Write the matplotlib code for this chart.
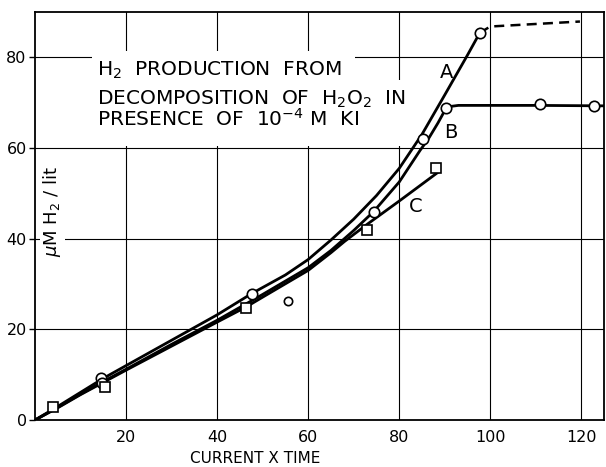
import matplotlib
matplotlib.use('Agg')
import matplotlib.pyplot as plt
from matplotlib.patches import Polygon

plt.rcParams['font.family'] = ['DejaVu Sans']

# === curves ===
a_x = [0, 5, 10, 15, 20, 30, 40, 47.6, 55, 60, 65, 70, 75, 80, 85, 90, 95, 97.7]
a_y = [0, 3.0, 6.1, 9.2, 12.0, 17.6, 23.2, 27.9, 32.0, 35.4, 39.7, 44.3, 49.5, 55.5, 63.0, 71.7, 80.5, 85.4]
a_dash_x = [97.7, 100, 119.7]
a_dash_y = [85.4, 86.8, 87.9]

b_x = [0, 5, 10, 15, 20, 30, 40, 50, 60, 65, 70, 74.4, 80, 84.6, 86.4, 88.5, 90.2, 91.5, 93, 110, 125]
b_y = [0, 2.8, 5.7, 8.5, 11.2, 16.7, 22.0, 27.7, 33.6, 37.4, 41.8, 46.0, 52.5, 59.5, 62.0, 65.5, 68.6, 69.2, 69.4, 69.4, 69.3]

c_x = [0, 5, 10, 15, 20, 30, 40, 46.3, 50, 60, 65, 68, 73, 80, 88.6]
c_y = [0, 2.7, 5.6, 8.3, 11.0, 16.3, 21.6, 24.9, 27.1, 33.0, 36.9, 39.4, 43.2, 48.3, 54.7]

# measured points
circ_x = [14.4, 14.8, 47.6, 74.4, 85.2, 90.2, 97.7, 111, 122.8]
circ_y = [9.3, 8.1, 27.9, 45.9, 61.9, 68.9, 85.4, 69.6, 69.2]
odd_x = [55.5]
odd_y = [26.2]
sq_x = [3.9, 15.4, 46.3, 73, 88]
sq_y = [2.9, 7.2, 24.7, 41.9, 55.6]

x_ticks = [20, 40, 60, 80, 100, 120]
y_ticks = [0, 20, 40, 60, 80]

fig = plt.figure(figsize=(6.06, 4.67), dpi=100)
ax = fig.add_axes([0.0578, 0.1006, 0.939, 0.8737])

ax.set_xlim(0, 125)
ax.set_ylim(0, 90)

# grid
for xv in x_ticks:
    ax.axvline(xv, color='black', lw=0.8, zorder=1)
for yv in y_ticks[1:]:
    ax.axhline(yv, color='black', lw=0.8, zorder=1)

# white patch behind the title block (hides the grid there)
ax.add_patch(Polygon([(12.5, 81.5), (70.3, 81.5), (70.3, 75.0), (85.7, 75.0),
                      (85.7, 60.4), (12.5, 60.4)],
                     closed=True, facecolor='white', edgecolor='none', zorder=2))

# curves
lw = 2.0
ax.plot(a_x, a_y, color='black', lw=lw, zorder=3)
ax.plot(a_dash_x, a_dash_y, color='black', lw=1.8, ls=(0, (4, 2.5)), zorder=3)
ax.plot(b_x, b_y, color='black', lw=lw, zorder=3)
ax.plot(c_x, c_y, color='black', lw=lw, zorder=3)

ax.plot(circ_x, circ_y, 'o', ms=7.5, mfc='white', mec='black', mew=1.2, zorder=4)
ax.plot(odd_x, odd_y, 'o', ms=6, mfc='white', mec='black', mew=1.2, zorder=4)
ax.plot(sq_x, sq_y, 's', ms=6.5, mfc='white', mec='black', mew=1.2, zorder=4)

# curve labels
ax.text(90.5, 76.7, 'A', fontsize=14, ha='center', va='center', zorder=5)
ax.text(91.4, 63.5, 'B', fontsize=14, ha='center', va='center', zorder=5)
ax.text(83.7, 47.0, 'C', fontsize=14, ha='center', va='center', zorder=5)

# title block
ax.text(13.6, 76.0, r'H$_2$  PRODUCTION  FROM', fontsize=14.5, va='baseline', zorder=2.5)
ax.text(13.6, 69.6, r'DECOMPOSITION  OF  H$_2$O$_2$  IN', fontsize=14.5, va='baseline', zorder=2.5)
ax.text(13.6, 64.8, r'PRESENCE  OF  10$^{-4}$ M  KI', fontsize=14.5, va='baseline', zorder=2.5)

# y label sits inside the plot
ax.text(3.8, 46, r'$\mu$M H$_2$ / lit', fontsize=13, rotation=90, ha='center', va='center',
        bbox=dict(facecolor='white', edgecolor='none', pad=1), zorder=2)

ax.set_xticks(x_ticks)
ax.set_yticks(y_ticks)
ax.tick_params(axis='x', length=0, pad=7, labelsize=11.5)
ax.tick_params(axis='y', length=4, width=1, pad=2, labelsize=11.5)

ax.set_xlabel('CURRENT X TIME', fontsize=11)
ax.xaxis.set_label_coords(0.387, -0.075)

for s in ax.spines.values():
    s.set_linewidth(1.3)

plt.savefig('out.png', dpi=100)
